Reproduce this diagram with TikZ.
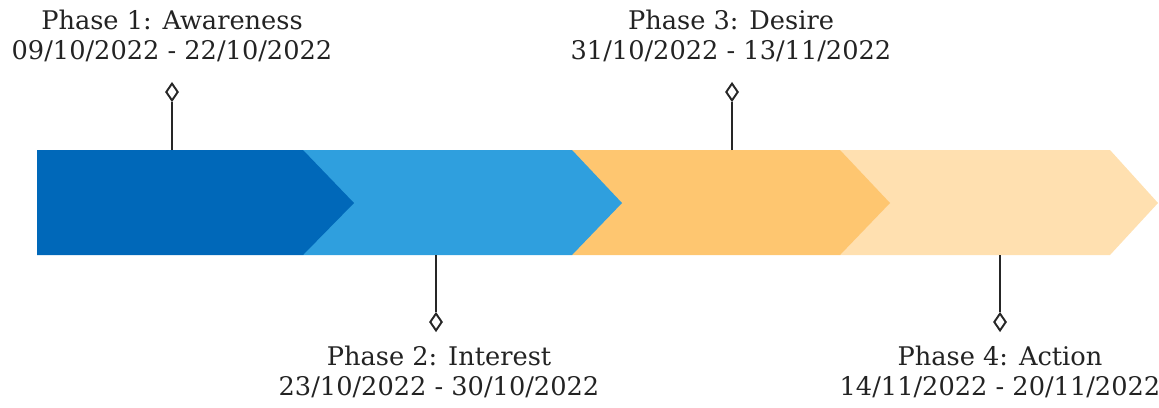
\documentclass[tikz,border=0pt]{standalone}
\usepackage{fontspec}
\setmainfont{DejaVu Serif}
\usetikzlibrary{shapes.geometric}
\definecolor{cA}{RGB}{0,104,185}
\definecolor{cB}{RGB}{47,159,222}
\definecolor{cC}{RGB}{254,198,112}
\definecolor{cD}{RGB}{255,224,176}
\definecolor{txt}{RGB}{35,35,35}
\tikzset{
  phaselabel/.style={align=center, text=txt, font=\fontsize{14.6pt}{17pt}\selectfont, inner sep=0pt},
  pin/.style={draw=black!85, line width=1.2pt},
  pinhead/.style={diamond, draw=black!85, line width=1.1pt, fill=white, inner sep=0pt, minimum width=7pt, minimum height=10pt, aspect=0.7}
}
\begin{document}
\begin{tikzpicture}[x=0.02cm, y=-0.02cm]
\useasboundingbox (0,0) rectangle (1159,407);
% chevrons, drawn last to first so the tips overlap
\fill[cD] (840,150) -- (1110,150) -- (1158,203) -- (1110,255) -- (840,255) -- cycle;
\fill[cC] (572,150) -- (840,150) -- (890,203) -- (840,255) -- (572,255) -- cycle;
\fill[cB] (303,150) -- (572,150) -- (622,203) -- (572,255) -- (303,255) -- cycle;
\fill[cA] (37,150) -- (303,150) -- (354,203) -- (303,255) -- (37,255) -- cycle;
% anchor coordinates on the bar
\coordinate (b1) at (172,150);
\coordinate (b2) at (436,255);
\coordinate (b3) at (732,150);
\coordinate (b4) at (1000,255);
% pin heads
\node[pinhead] (h1) at (172,92) {};
\node[pinhead] (h2) at (436,322) {};
\node[pinhead] (h3) at (732,92) {};
\node[pinhead] (h4) at (1000,322) {};
\draw[pin] (b1) -- (h1.south);
\draw[pin] (b2) -- (h2.north);
\draw[pin] (b3) -- (h3.south);
\draw[pin] (b4) -- (h4.north);
% labels
\node[phaselabel] (l1) at (172,36) {Phase 1: Awareness\\09/10/2022 - 22/10/2022};
\node[phaselabel] (l2) at (439,372) {Phase 2: Interest\\23/10/2022 - 30/10/2022};
\node[phaselabel] (l3) at (731,36) {Phase 3: Desire\\31/10/2022 - 13/11/2022};
\node[phaselabel] (l4) at (1000,372) {Phase 4: Action\\14/11/2022 - 20/11/2022};
\end{tikzpicture}
\end{document}
